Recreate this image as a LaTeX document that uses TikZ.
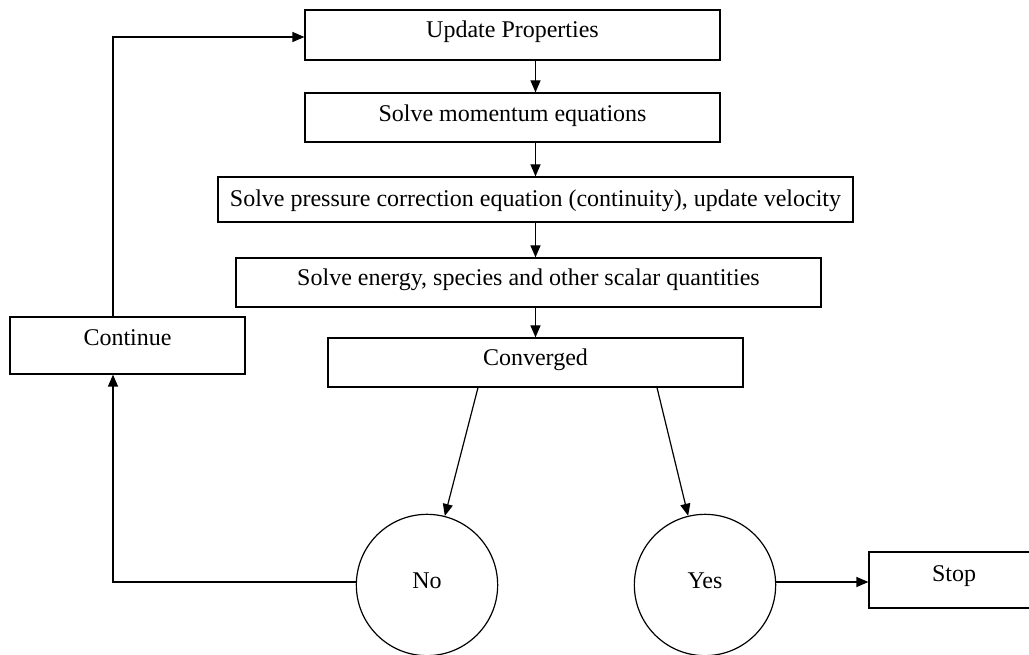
\documentclass[tikz,border=0pt]{standalone}
\usepackage{fontspec}
\setmainfont{Liberation Serif}
\usetikzlibrary{arrows.meta,calc}
\begin{document}
\begin{tikzpicture}[x=0.75pt,y=-0.75pt,
  font=\fontsize{18}{22}\selectfont,
  every node/.style={line width=0.9pt},
  box/.style={draw, rectangle, inner sep=0pt, text height=12pt, text depth=#1},
  box/.default=2pt,
  circ/.style={draw, circle, inner sep=0pt, minimum size=106pt, text height=12pt, text depth=6pt},
  arr/.style={line width=0.9pt, -{Triangle[length=9pt,width=7.5pt]}}]
\useasboundingbox (0,0) rectangle (1029,655);
\clip (0,0) rectangle (1029,655);
\node[box=8pt, minimum width=311.25pt, minimum height=37.5pt] (upd) at (512.5,35) {Update Properties};
\node[box=5.8pt, minimum width=311.25pt, minimum height=36.75pt] (mom) at (512.5,117.5) {Solve momentum equations};
\node[box=2pt, minimum width=476.25pt, minimum height=33.75pt] (pre) at (535.5,199.5) {Solve pressure correction equation (continuity), update velocity};
\node[box=7.2pt, minimum width=438.75pt, minimum height=36.75pt] (ene) at (528.5,282.5) {Solve energy, species and other scalar quantities};
\node[box=7.2pt, minimum width=311.25pt, minimum height=36.75pt] (conv) at (535.5,362.5) {Converged};
\node[box=12.5pt, minimum width=176.25pt, minimum height=42.75pt] (cont) at (127.5,345.5) {Continue};
\node[circ] (no) at (427,585) {No};
\node[circ] (yes) at (705,585) {Yes};
\node[box=9.5pt, minimum width=127.5pt, minimum height=42pt] (stop) at (954,580) {Stop};
\coordinate (lx) at (113,0);
\coordinate (ly) at (0,582);
\draw[arr] (upd.south -| conv.center) -- (mom.north -| conv.center);
\draw[arr] (mom.south -| conv.center) -- (pre.north -| conv.center);
\draw[arr] (pre.south -| conv.center) -- (ene.north -| conv.center);
\draw[arr] (ene.south -| conv.center) -- (conv.north);
\draw[arr] ($(conv.south)+(-57.5,0)$) -- (no);
\draw[arr] ($(conv.south)+(121.5,0)$) -- (yes);
\draw[arr] (no.west |- ly) -| (cont.south -| lx);
\draw[arr] (cont.north -| lx) |- ([yshift=-1.5pt]upd.west);
\draw[arr] (yes.east |- ly) -- (stop.west |- ly);
\end{tikzpicture}
\end{document}
